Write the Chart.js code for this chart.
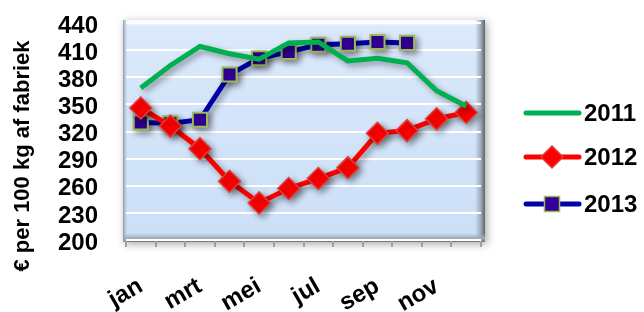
<!DOCTYPE html>
<html>
<head>
<meta charset="utf-8">
<script src="https://cdn.jsdelivr.net/npm/chart.js@4"></script>
<style>
    html, body { margin: 0; padding: 0; background: #ffffff; }
    #wrap { width: 644px; height: 312px; position: relative; }
</style>
</head>
<body>
<div id="wrap"><canvas id="priceChart"></canvas></div>
<script>
    // Maanden (alleen elke tweede wordt getoond)
    const months = ['jan', 'feb', 'mrt', 'apr', 'mei', 'jun', 'jul', 'aug', 'sep', 'okt', 'nov', 'dec'];

    // Prijzen per 100 kg af fabriek
    const prices2011 = [368, 393, 414, 406, 400, 418, 419, 398, 401, 396, 365, 348];
    const prices2012 = [346, 326, 301, 265, 241, 257, 268, 280, 318, 321, 334, 341];
    const prices2013 = [330, 329, 333, 383, 401, 408, 416, 417, 419, 418, null, null];

    const yTicks = [200, 230, 260, 290, 320, 350, 380, 410, 440];
    const yTitle = '€ per 100 kg af fabriek';

    const fontFamily = 'Arial, "Liberation Sans", sans-serif';

    // Achtergrond van het plotgebied met een schuine rand
    const plotBackground = {
        id: 'plotBackground',
        beforeDraw(chart) {
            const ctx = chart.ctx;
            const a = chart.chartArea;
            const l = a.left - 3, t = a.top - 3, w = a.right - a.left + 7, h = a.bottom - a.top + 5;
            ctx.save();
            ctx.shadowColor = 'rgba(0,0,0,0.35)';
            ctx.shadowBlur = 8;
            ctx.shadowOffsetX = 2;
            ctx.shadowOffsetY = 2;
            ctx.fillStyle = '#c8dcf2';
            ctx.fillRect(l, t, w, h);
            ctx.restore();

            ctx.save();
            let g = ctx.createLinearGradient(0, a.top, 0, a.bottom);
            g.addColorStop(0, '#dbe9fb');
            g.addColorStop(1, '#cbdff7');
            ctx.fillStyle = g;
            ctx.fillRect(l, t, w, h);

            // bovenrand licht
            g = ctx.createLinearGradient(0, t, 0, t + 7);
            g.addColorStop(0, '#ffffff');
            g.addColorStop(1, 'rgba(255,255,255,0)');
            ctx.fillStyle = g;
            ctx.fillRect(l, t, w, 7);

            // rechterrand donker
            g = ctx.createLinearGradient(l + w - 10, 0, l + w, 0);
            g.addColorStop(0, 'rgba(160,175,190,0)');
            g.addColorStop(0.6, '#9aa6b2');
            g.addColorStop(1, '#5d6670');
            ctx.fillStyle = g;
            ctx.fillRect(l + w - 10, t, 10, h);

            // onderrand donker
            g = ctx.createLinearGradient(0, t + h - 9, 0, t + h);
            g.addColorStop(0, 'rgba(160,175,190,0)');
            g.addColorStop(0.6, '#9eaab6');
            g.addColorStop(1, '#6c7580');
            ctx.fillStyle = g;
            ctx.fillRect(l, t + h - 9, w, 9);

            // linkerrand
            g = ctx.createLinearGradient(l, 0, l + 5, 0);
            g.addColorStop(0, '#8a96a3');
            g.addColorStop(1, 'rgba(200,215,235,0)');
            ctx.fillStyle = g;
            ctx.fillRect(l, t, 5, h);
            ctx.restore();
        }
    };

    // Schaduw onder de lijnen
    const lineShadow = {
        id: 'lineShadow',
        beforeDatasetDraw(chart) {
            const ctx = chart.ctx;
            ctx.save();
            ctx.shadowColor = 'rgba(0,0,0,0.4)';
            ctx.shadowBlur = 6;
            ctx.shadowOffsetX = 3;
            ctx.shadowOffsetY = 3;
        },
        afterDatasetDraw(chart) {
            chart.ctx.restore();
        }
    };

    // Astitel links, verticaal gecentreerd op het hele canvas
    const axisTitle = {
        id: 'axisTitle',
        afterDraw(chart) {
            const ctx = chart.ctx;
            ctx.save();
            ctx.translate(23, 156);
            ctx.rotate(-Math.PI / 2);
            ctx.fillStyle = '#000000';
            ctx.font = 'bold 22px ' + fontFamily;
            ctx.textAlign = 'center';
            ctx.textBaseline = 'middle';
            ctx.fillText(yTitle, 0, 0);
            ctx.restore();
        }
    };

    // Legenda rechts met lijn en marker
    const sideLegend = {
        id: 'sideLegend',
        afterDraw(chart) {
            const ctx = chart.ctx;
            const rows = [113, 157, 204];
            chart.data.datasets.forEach(function(ds, i) {
                const y = rows[i];
                ctx.save();
                ctx.strokeStyle = ds.borderColor;
                ctx.lineWidth = 5;
                ctx.lineCap = 'round';
                ctx.beginPath();
                ctx.moveTo(526, y);
                ctx.lineTo(579, y);
                ctx.stroke();
                if (ds.pointRadius > 0) {
                    ctx.fillStyle = ds.pointBackgroundColor;
                    ctx.strokeStyle = ds.pointBorderColor;
                    ctx.lineWidth = 1.5;
                    const r = ds.pointRadius;
                    ctx.beginPath();
                    if (ds.pointStyle === 'rectRot') {
                        ctx.moveTo(552, y - r);
                        ctx.lineTo(552 + r, y);
                        ctx.lineTo(552, y + r);
                        ctx.lineTo(552 - r, y);
                        ctx.closePath();
                    } else {
                        const s = r * 0.75;
                        ctx.rect(552 - s, y - s, s * 2, s * 2);
                    }
                    ctx.fill();
                    ctx.stroke();
                }
                ctx.fillStyle = '#000000';
                ctx.font = 'bold 24px ' + fontFamily;
                ctx.textBaseline = 'middle';
                ctx.fillText(ds.label, 584, y + 1);
                ctx.restore();
            });
        }
    };

    const ctx = document.getElementById('priceChart').getContext('2d');
    new Chart(ctx, {
        type: 'line',
        data: {
            labels: months,
            datasets: [
                {
                    label: '2011',
                    data: prices2011,
                    borderColor: '#00b050',
                    borderWidth: 5,
                    pointRadius: 0,
                    tension: 0,
                    fill: false
                },
                {
                    label: '2012',
                    data: prices2012,
                    borderColor: '#ff0000',
                    borderWidth: 5,
                    pointStyle: 'rectRot',
                    pointRadius: 11,
                    pointBackgroundColor: '#ff0000',
                    pointBorderColor: '#e0403c',
                    pointBorderWidth: 1.5,
                    tension: 0,
                    fill: false
                },
                {
                    label: '2013',
                    data: prices2013,
                    borderColor: '#0000a8',
                    borderWidth: 5,
                    pointStyle: 'rect',
                    pointRadius: 10,
                    pointBackgroundColor: '#330099',
                    pointBorderColor: '#9bbb59',
                    pointBorderWidth: 2,
                    tension: 0,
                    fill: false
                }
            ]
        },
        options: {
            responsive: true,
            maintainAspectRatio: false,
            animation: false,
            layout: {
                padding: { top: 23, right: 163, bottom: 0, left: 8 }
            },
            plugins: {
                legend: { display: false },
                tooltip: { enabled: false }
            },
            scales: {
                x: {
                    offset: true,
                    afterFit: function(scale) {
                        scale.height = 72;
                        scale.paddingLeft = 0;
                        scale.paddingRight = 0;
                    },
                    grid: {
                        display: true,
                        drawOnChartArea: false,
                        offset: true,
                        tickLength: 7,
                        color: '#a0a0a0',
                        lineWidth: 2
                    },
                    border: { display: false },
                    ticks: {
                        autoSkip: false,
                        minRotation: 30,
                        maxRotation: 30,
                        padding: 25,
                        color: '#000000',
                        font: { family: fontFamily, size: 24, weight: 'bold' },
                        callback: function(value, index) {
                            return index % 2 === 0 ? months[index] : '';
                        }
                    }
                },
                y: {
                    min: yTicks[0],
                    max: yTicks[yTicks.length - 1],
                    afterBuildTicks: function(axis) {
                        axis.ticks = yTicks.map(v => ({ value: v }));
                    },
                    afterFit: function(scale) {
                        scale.width = 118;
                        scale.paddingTop = 0;
                        scale.paddingBottom = 0;
                    },
                    grid: {
                        color: '#ffffff',
                        lineWidth: 2,
                        drawTicks: false
                    },
                    border: { display: false },
                    ticks: {
                        autoSkip: false,
                        padding: 28,
                        labelOffset: 3,
                        color: '#000000',
                        font: { family: fontFamily, size: 24, weight: 'bold' }
                    }
                }
            }
        },
        plugins: [plotBackground, lineShadow, axisTitle, sideLegend]
    });
</script>
</body>
</html>
